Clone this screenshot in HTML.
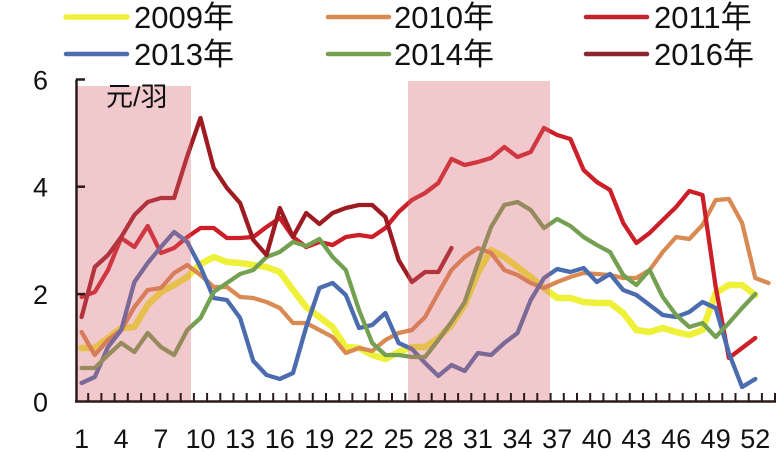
<!DOCTYPE html>
<html><head><meta charset="utf-8"><style>
html,body{margin:0;padding:0;background:#fff;}
svg{display:block;}
text{font-family:"Liberation Sans","Noto Sans CJK SC",sans-serif;fill:#111;}
</style></head><body>
<svg width="784" height="452" viewBox="0 0 784 452" xmlns="http://www.w3.org/2000/svg">
<rect width="784" height="452" fill="#fff"/>
<!-- legend -->
<g stroke-linecap="round" stroke-width="4.5">
<line x1="66" y1="17" x2="127" y2="17" stroke="#eef03a" stroke-width="5.5"/>
<line x1="328" y1="17" x2="389" y2="17" stroke="#d98a52"/>
<line x1="586" y1="17" x2="647" y2="17" stroke="#c0242c"/>
<line x1="66" y1="54" x2="127" y2="54" stroke="#4e6cae"/>
<line x1="328" y1="54" x2="389" y2="54" stroke="#74a052"/>
<line x1="586" y1="54" x2="647" y2="54" stroke="#8e2430"/>
</g>
<g font-size="31">
<text x="134" y="28">2009年</text>
<text x="394" y="28">2010年</text>
<text x="654" y="28">2011年</text>
<text x="134" y="65">2013年</text>
<text x="394" y="65">2014年</text>
<text x="654" y="65">2016年</text>
</g>
<!-- series -->
<g fill="none" stroke-linejoin="round" stroke-linecap="round">
<polyline stroke="#eef03a" stroke-width="6.5" points="81.6,348 94.8,348 108,338 121.2,328 134.4,327 147.7,305 160.9,292 174.1,285 187.3,277 200.5,264 213.7,257 226.9,262 240.1,263 253.3,265 266.5,267 279.8,272 293,290 306.2,307 319.4,317 332.6,327 345.8,347 359,348 372.2,355 385.4,359 398.6,352 411.9,347 425.1,347 438.3,338 451.5,325 464.7,305 477.9,273 491.1,250 504.3,257 517.5,267 530.7,277 544,288 557.2,298 570.4,298 583.6,302 596.8,303 610,303 623.2,313 636.4,330 649.6,332 662.8,328 676.1,332 689.3,335 702.5,330 715.7,293 728.9,285 742.1,285 755.3,295"/>
<polyline stroke="#d98a52" stroke-width="4.3" points="81.6,332 94.8,355 108,340 121.2,330 134.4,307 147.7,290 160.9,288 174.1,273 187.3,265 200.5,275 213.7,287 226.9,287 240.1,297 253.3,298 266.5,302 279.8,308 293,323 306.2,323 319.4,330 332.6,337 345.8,353 359,348 372.2,351 385.4,340 398.6,333 411.9,330 425.1,317 438.3,293 451.5,270 464.7,257 477.9,248 491.1,253 504.3,270 517.5,275 530.7,283 544,288 557.2,282 570.4,277 583.6,273 596.8,274 610,275 623.2,278 636.4,278 649.6,270 662.8,252 676.1,237 689.3,239 702.5,225 715.7,200 728.9,199 742.1,223 755.3,278 768.5,283"/>
<polyline stroke="#cc1f28" stroke-width="4.3" points="81.6,297 94.8,292 108,270 121.2,238 134.4,247 147.7,226 160.9,253 174.1,248 187.3,237 200.5,228 213.7,228 226.9,238 240.1,238 253.3,237 266.5,227 279.8,218 293,237 306.2,247 319.4,242 332.6,245 345.8,237 359,235 372.2,237 385.4,228 398.6,212 411.9,200 425.1,193 438.3,183 451.5,159 464.7,165 477.9,162 491.1,158 504.3,147 517.5,157 530.7,152 544,128 557.2,135 570.4,139 583.6,170 596.8,182 610,190 623.2,223 636.4,243 649.6,233 662.8,220 676.1,207 689.3,191 702.5,195 715.7,287 728.9,358 742.1,348 755.3,338"/>
<polyline stroke="#4b6cae" stroke-width="4.3" points="81.6,383 94.8,377 108,347 121.2,330 134.4,282 147.7,263 160.9,247 174.1,232 187.3,242 200.5,267 213.7,298 226.9,300 240.1,318 253.3,361 266.5,375 279.8,379 293,373 306.2,327 319.4,288 332.6,283 345.8,295 359,328 372.2,325 385.4,313 398.6,343 411.9,349 425.1,363 438.3,376 451.5,365 464.7,371 477.9,353 491.1,355 504.3,343 517.5,333 530.7,300 544,278 557.2,269 570.4,272 583.6,268 596.8,282 610,274 623.2,290 636.4,295 649.6,305 662.8,315 676.1,317 689.3,312 702.5,302 715.7,308 728.9,353 742.1,387 755.3,379"/>
<polyline stroke="#74a052" stroke-width="4.3" points="81.6,368 94.8,368 108,355 121.2,343 134.4,352 147.7,333 160.9,347 174.1,355 187.3,330 200.5,318 213.7,292 226.9,283 240.1,274 253.3,270 266.5,257 279.8,252 293,242 306.2,246 319.4,239 332.6,257 345.8,270 359,310 372.2,343 385.4,355 398.6,355 411.9,357 425.1,357 438.3,340 451.5,322 464.7,302 477.9,263 491.1,227 504.3,205 517.5,202 530.7,210 544,228 557.2,219 570.4,226 583.6,237 596.8,245 610,252 623.2,275 636.4,285 649.6,270 662.8,297 676.1,315 689.3,327 702.5,323 715.7,337 728.9,323 742.1,308 755.3,294"/>
<polyline stroke="#9e1b22" stroke-width="4.3" points="81.6,317 94.8,267 108,255 121.2,237 134.4,215 147.7,202 160.9,198 174.1,198 187.3,156 200.5,118 213.7,168 226.9,188 240.1,203 253.3,240 266.5,255 279.8,208 293,237 306.2,213 319.4,224 332.6,213 345.8,208 359,205 372.2,205 385.4,217 398.6,260 411.9,282 425.1,272 438.3,272 451.5,248"/>
</g>
<!-- shaded periods (overlay) -->
<rect x="76" y="86" width="115" height="315.5" fill="rgb(215,101,112)" fill-opacity="0.35"/>
<rect x="408" y="81" width="142" height="320.5" fill="rgb(215,101,112)" fill-opacity="0.35"/>
<!-- axes -->
<g stroke="#2a1a1a" stroke-width="2.5">
<line x1="76.5" y1="79.5" x2="76.5" y2="402.5"/>
<line x1="75" y1="401.5" x2="776" y2="401.5"/>
<line x1="76" y1="79.5" x2="85" y2="79.5"/>
<line x1="76" y1="186.7" x2="85" y2="186.7"/>
<line x1="76" y1="294.1" x2="85" y2="294.1"/>
</g>
<g stroke="#2a1a1a" stroke-width="2">
<path d="M88.2 401V393M101.4 401V393M114.6 401V393M127.8 401V393M141.1 401V393M154.3 401V393M167.5 401V393M180.7 401V393M193.9 401V393M207.1 401V393M220.3 401V393M233.5 401V393M246.7 401V393M259.9 401V393M273.2 401V393M286.4 401V393M299.6 401V393M312.8 401V393M326 401V393M339.2 401V393M352.4 401V393M365.6 401V393M378.8 401V393M392 401V393M405.3 401V393M418.5 401V393M431.7 401V393M444.9 401V393M458.1 401V393M471.3 401V393M484.5 401V393M497.7 401V393M510.9 401V393M524.1 401V393M537.3 401V393M550.6 401V393M563.8 401V393M577 401V393M590.2 401V393M603.4 401V393M616.6 401V393M629.8 401V393M643 401V393M656.2 401V393M669.4 401V393M682.7 401V393M695.9 401V393M709.1 401V393M722.3 401V393M735.5 401V393M748.7 401V393M761.9 401V393M775 401V393"/>
</g>
<!-- axis labels -->
<g font-size="27" text-anchor="end">
<text x="48" y="89.5">6</text>
<text x="48" y="196.5">4</text>
<text x="48" y="304">2</text>
<text x="48" y="411.5">0</text>
</g>
<g font-size="27" text-anchor="middle">
<text x="81.6" y="448">1</text>
<text x="121.2" y="448">4</text>
<text x="160.9" y="448">7</text>
<text x="200.5" y="448">10</text>
<text x="240.1" y="448">13</text>
<text x="279.8" y="448">16</text>
<text x="319.4" y="448">19</text>
<text x="359" y="448">22</text>
<text x="398.6" y="448">25</text>
<text x="438.3" y="448">28</text>
<text x="477.9" y="448">31</text>
<text x="517.5" y="448">34</text>
<text x="557.2" y="448">37</text>
<text x="596.8" y="448">40</text>
<text x="636.4" y="448">43</text>
<text x="676.1" y="448">46</text>
<text x="715.7" y="448">49</text>
<text x="755.3" y="448">52</text>
</g>
<text x="106" y="106" font-size="27" fill="#333">元/羽</text>
</svg>
</body></html>
